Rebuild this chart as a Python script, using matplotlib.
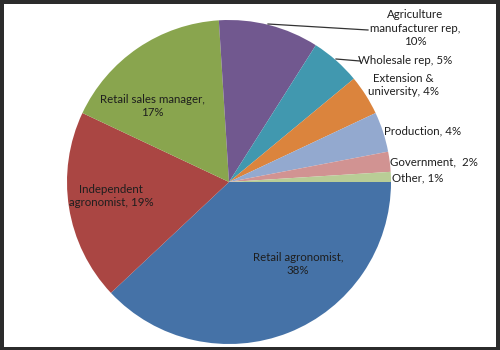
import matplotlib.pyplot as plt
from matplotlib.patches import Rectangle

# data
categories = ['Retail agronomist', 'Independent agronomist', 'Retail sales manager',
              'Agriculture manufacturer rep', 'Wholesale rep', 'Extension & university',
              'Production', 'Government', 'Other']
shares = [38, 19, 17, 10, 5, 4, 4, 2, 1]
label_texts = ['Retail agronomist,\n38%', 'Independent\nagronomist, 19%',
               'Retail sales manager,\n17%', 'Agriculture\nmanufacturer rep,\n10%',
               'Wholesale rep, 5%', 'Extension &\nuniversity, 4%', 'Production, 4%',
               'Government,  2%', 'Other, 1%']
colors = ['#4572A7', '#AA4643', '#89A54E', '#71588F', '#4198AF',
          '#DB843D', '#93A9CF', '#D19392', '#B9CD96']

# layout in pixel coords (y measured from the top)
W, H = 500, 350
CX, CY, R = 229, 182, 162
label_pos = [(298, 264), (111, 196), (152, 106), (415, 28), (405, 60),
             (403, 85), (423, 131), (434, 162), (418, 178)]

plt.rcParams['font.family'] = ['Lato', 'DejaVu Sans']

fig = plt.figure(figsize=(W / 100, H / 100), dpi=100, facecolor='#2b2b2b')
# white panel inside the dark frame
left, top, right, bottom = 4, 4, 4, 3
fig.patches.append(Rectangle((left / W, bottom / H), (W - left - right) / W,
                             (H - top - bottom) / H, transform=fig.transFigure,
                             facecolor='white', edgecolor='none', zorder=-5))

ax = fig.add_axes([0, 0, 1, 1])
ax.set_zorder(1)

ax.pie(shares, colors=colors, startangle=0, counterclock=False,
       center=(CX, H - CY), radius=R,
       wedgeprops=dict(edgecolor='none', linewidth=0), frame=True)
ax.set_xlim(0, W)
ax.set_ylim(0, H)
ax.set_aspect('equal')
ax.axis('off')

for txt, (x, y) in zip(label_texts, label_pos):
    ax.text(x, H - y, txt, ha='center', va='center', fontsize=8.3,
            color='#1e1e1e', linespacing=1.25)

# leader lines for the two labels that sit off their slices
ax.plot([268, 368], [H - 24, H - 30], color='#333333', lw=0.9)
ax.plot([336, 360], [H - 59, H - 61], color='#333333', lw=0.9)

fig.savefig('out.png', dpi=100, facecolor=fig.get_facecolor())
